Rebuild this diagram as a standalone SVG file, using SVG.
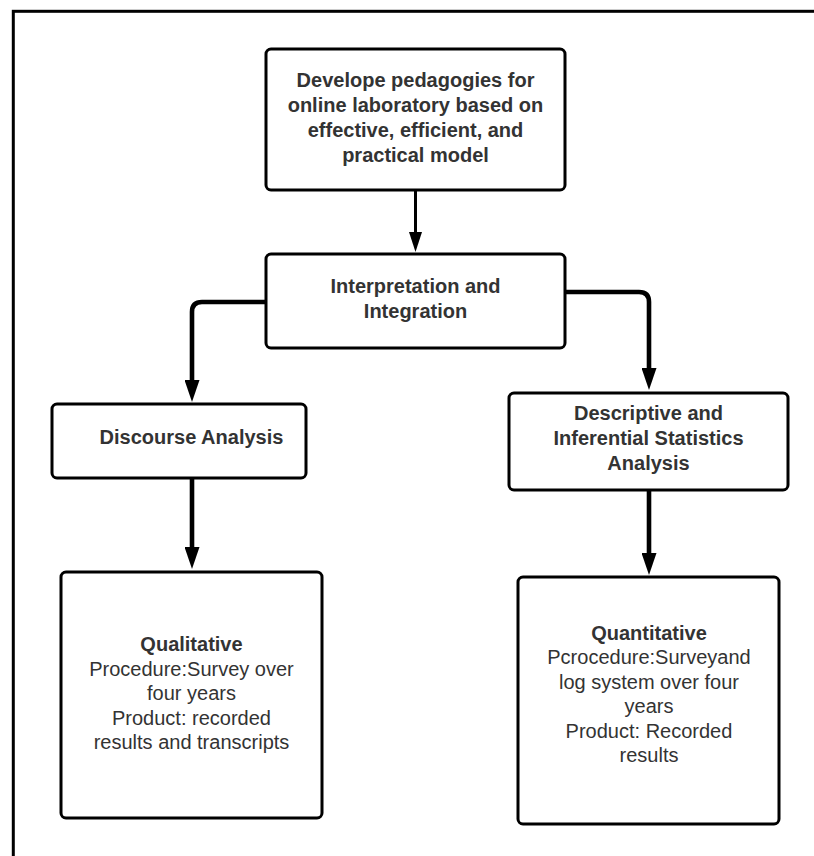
<svg xmlns="http://www.w3.org/2000/svg" width="814" height="856" viewBox="0 0 814 856">
  <style>
    .box { fill: #ffffff; stroke: #000000; stroke-width: 3; }
    .frame { fill: none; stroke: #000000; stroke-width: 3; }
    .link { fill: none; stroke: #000000; stroke-linejoin: round; }
    .t { font-family: "Liberation Sans", Arial, sans-serif; font-size: 20px; fill: #333333; text-anchor: middle; }
    .b { font-weight: bold; }
  </style>
  <defs>
    <marker id="head" viewBox="0 0 22 15" refX="0" refY="7.5" markerWidth="22" markerHeight="15" markerUnits="userSpaceOnUse" orient="auto">
      <path d="M0,0 L22,7.5 L0,15 Z" fill="#000000"/>
    </marker>
    <marker id="headSmall" viewBox="0 0 20 13" refX="0" refY="6.5" markerWidth="20" markerHeight="13" markerUnits="userSpaceOnUse" orient="auto">
      <path d="M0,0 L20,6.5 L0,13 Z" fill="#000000"/>
    </marker>
  </defs>

  <rect width="814" height="856" fill="#ffffff"/>
  <!-- outer frame, open past the right and bottom edges -->
  <rect class="frame" x="13.3" y="11.3" width="830" height="870"/>

  <g id="connectors">
    <path class="link" d="M415.5,190 V232" stroke-width="3" marker-end="url(#headSmall)"/>
    <path class="link" d="M266,302 H202 Q192,302 192,312 V380" stroke-width="4.6" marker-end="url(#head)"/>
    <path class="link" d="M565,292 H639 Q649,292 649,302 V368" stroke-width="4.6" marker-end="url(#head)"/>
    <path class="link" d="M192,478 V547" stroke-width="4.6" marker-end="url(#head)"/>
    <path class="link" d="M649,490 V553" stroke-width="4.6" marker-end="url(#head)"/>
  </g>

  <g id="goal">
    <rect class="box" x="266" y="49" width="299" height="141" rx="5"/>
    <text class="t b" x="415.5" y="87">Develope pedagogies for</text>
    <text class="t b" x="415.5" y="112">online laboratory based on</text>
    <text class="t b" x="415.5" y="137">effective, efficient, and</text>
    <text class="t b" x="415.5" y="162">practical model</text>
  </g>

  <g id="interpretation">
    <rect class="box" x="266" y="254" width="299" height="94" rx="5"/>
    <text class="t b" x="415.5" y="293">Interpretation and</text>
    <text class="t b" x="415.5" y="318">Integration</text>
  </g>

  <g id="discourse">
    <rect class="box" x="52" y="404" width="254" height="74" rx="5"/>
    <text class="t b" x="191.5" y="444">Discourse Analysis</text>
  </g>

  <g id="statistics">
    <rect class="box" x="509" y="393" width="279" height="97" rx="5"/>
    <text class="t b" x="648.5" y="420">Descriptive and</text>
    <text class="t b" x="648.5" y="445">Inferential Statistics</text>
    <text class="t b" x="648.5" y="470">Analysis</text>
  </g>

  <g id="qualitative">
    <rect class="box" x="61" y="572" width="261" height="246" rx="5"/>
    <text class="t b" x="191.5" y="651">Qualitative</text>
    <text class="t" x="191.5" y="675.5">Procedure:Survey over</text>
    <text class="t" x="191.5" y="700">four years</text>
    <text class="t" x="191.5" y="724.5">Product: recorded</text>
    <text class="t" x="191.5" y="749">results and transcripts</text>
  </g>

  <g id="quantitative">
    <rect class="box" x="518" y="577" width="261" height="247" rx="5"/>
    <text class="t b" x="649" y="640">Quantitative</text>
    <text class="t" x="649" y="664">Pcrocedure:Surveyand</text>
    <text class="t" x="649" y="689">log system over four</text>
    <text class="t" x="649" y="713">years</text>
    <text class="t" x="649" y="738">Product: Recorded</text>
    <text class="t" x="649" y="762">results</text>
  </g>
</svg>
